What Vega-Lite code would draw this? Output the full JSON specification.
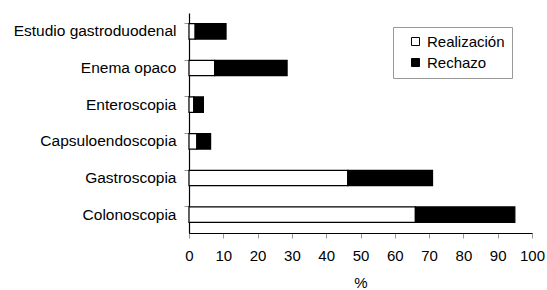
{
  "$schema": "https://vega.github.io/schema/vega-lite/v6.json",
  "autosize": "none",
  "width": 343,
  "height": 220,
  "padding": {"left": 189, "top": 13, "right": 15, "bottom": 57},
  "background": "white",
  "config": {
    "view": {"stroke": null},
    "font": "Liberation Sans"
  },
  "data": {
    "values": [
      {"prueba": "Estudio gastroduodenal", "tipo": "Realización", "orden": 1, "valor": 1.8},
      {"prueba": "Estudio gastroduodenal", "tipo": "Rechazo", "orden": 2, "valor": 9.0},
      {"prueba": "Enema opaco", "tipo": "Realización", "orden": 1, "valor": 7.5},
      {"prueba": "Enema opaco", "tipo": "Rechazo", "orden": 2, "valor": 21.1},
      {"prueba": "Enteroscopia", "tipo": "Realización", "orden": 1, "valor": 1.4},
      {"prueba": "Enteroscopia", "tipo": "Rechazo", "orden": 2, "valor": 2.8},
      {"prueba": "Capsuloendoscopia", "tipo": "Realización", "orden": 1, "valor": 2.3},
      {"prueba": "Capsuloendoscopia", "tipo": "Rechazo", "orden": 2, "valor": 4.0},
      {"prueba": "Gastroscopia", "tipo": "Realización", "orden": 1, "valor": 46.3},
      {"prueba": "Gastroscopia", "tipo": "Rechazo", "orden": 2, "valor": 24.7},
      {"prueba": "Colonoscopia", "tipo": "Realización", "orden": 1, "valor": 66.0},
      {"prueba": "Colonoscopia", "tipo": "Rechazo", "orden": 2, "valor": 29.0}
    ]
  },
  "mark": {"type": "bar", "stroke": "black", "strokeWidth": 1.2},
  "encoding": {
    "y": {
      "field": "prueba",
      "type": "nominal",
      "sort": ["Estudio gastroduodenal", "Enema opaco", "Enteroscopia", "Capsuloendoscopia", "Gastroscopia", "Colonoscopia"],
      "scale": {"paddingInner": 0.58, "paddingOuter": 0.29},
      "axis": {
        "title": null,
        "domainColor": "black",
        "domainWidth": 1.2,
        "tickColor": "#999999",
        "tickSize": 5,
        "bandPosition": 0,
        "labelFontSize": 15.5,
        "labelColor": "black",
        "labelPadding": 8
      }
    },
    "x": {
      "field": "valor",
      "type": "quantitative",
      "stack": "zero",
      "scale": {"domain": [0, 100], "nice": false},
      "axis": {
        "title": "%",
        "titleFontSize": 15,
        "titleFontWeight": "normal",
        "titleColor": "black",
        "titlePadding": 12,
        "values": [0, 10, 20, 30, 40, 50, 60, 70, 80, 90, 100],
        "grid": false,
        "domainColor": "black",
        "domainWidth": 1.2,
        "tickColor": "#999999",
        "tickSize": 5,
        "labelFontSize": 15,
        "labelColor": "black",
        "labelPadding": 10,
        "labelFlush": false
      }
    },
    "color": {
      "field": "tipo",
      "type": "nominal",
      "scale": {"domain": ["Realización", "Rechazo"], "range": ["white", "black"]},
      "legend": {
        "title": null,
        "orient": "none",
        "legendX": 204,
        "legendY": 14,
        "strokeColor": "#999999",
        "padding": 7,
        "symbolOffset": 8,
        "symbolType": "square",
        "symbolSize": 64,
        "symbolStrokeColor": "black",
        "symbolStrokeWidth": 1,
        "labelFontSize": 15,
        "labelColor": "black",
        "rowPadding": 5,
        "labelOffset": 4
      }
    },
    "order": {"field": "orden", "type": "quantitative"}
  }
}
